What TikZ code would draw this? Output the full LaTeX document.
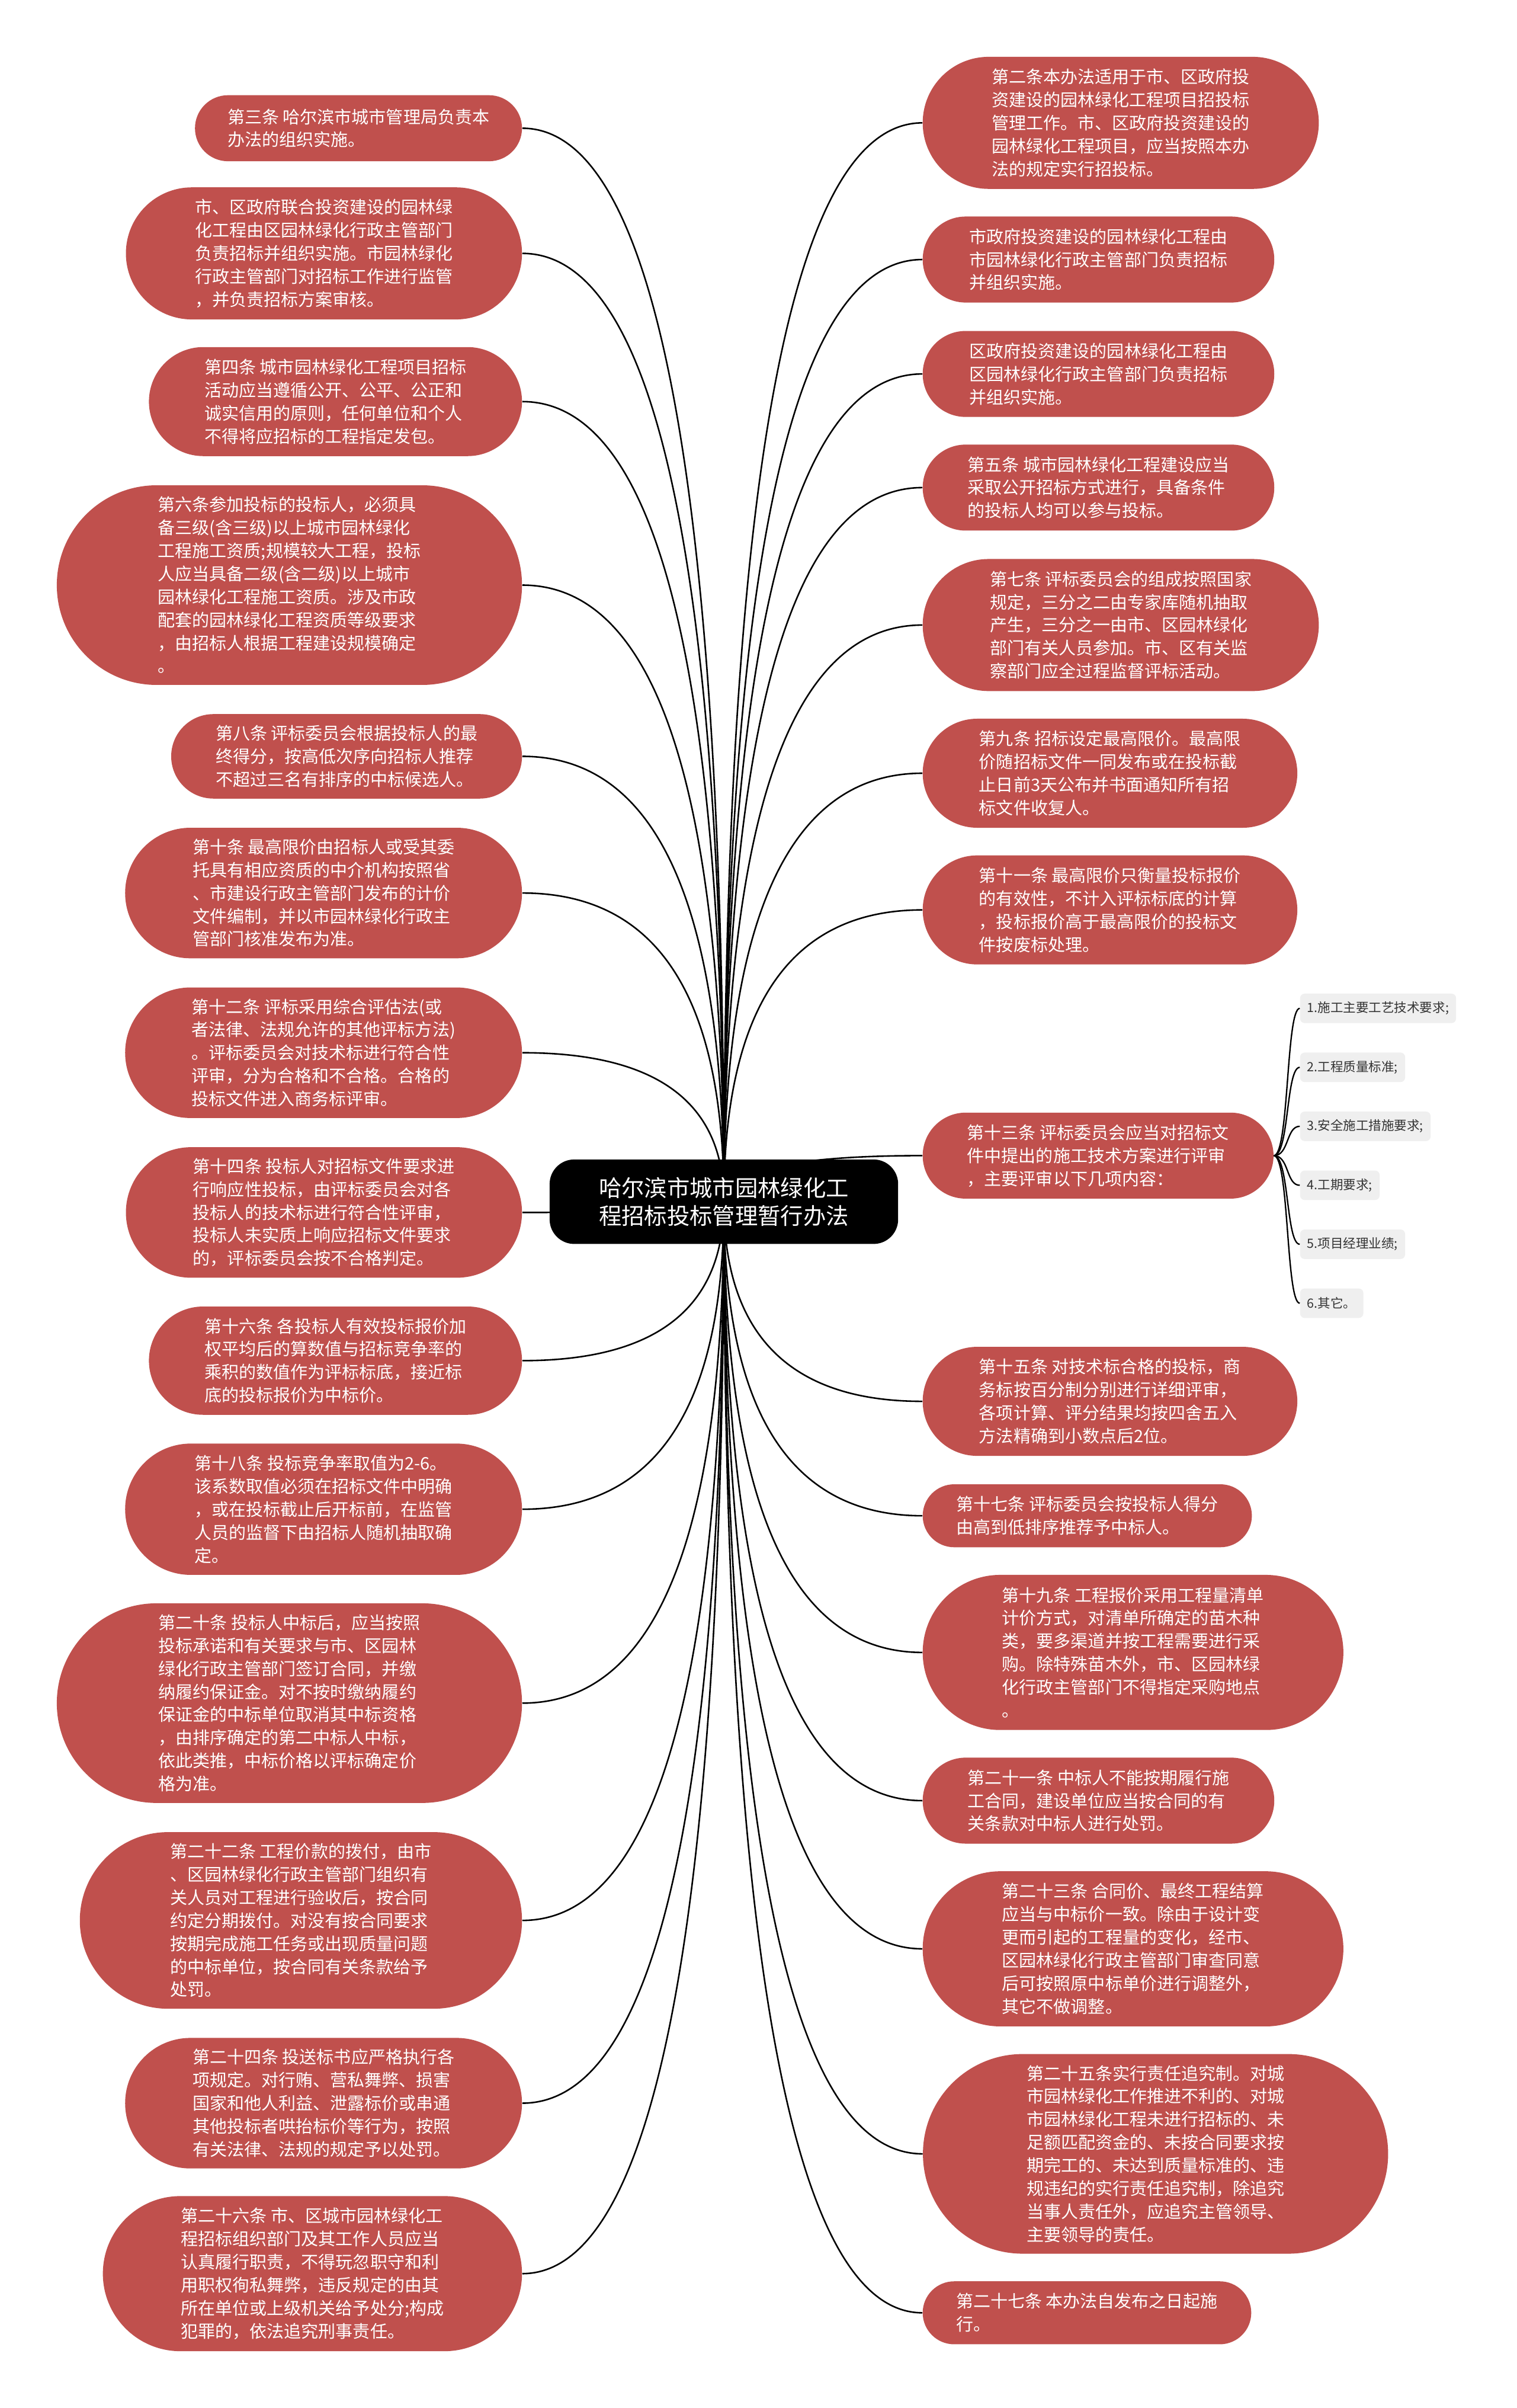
\documentclass[tikz,border=0pt]{standalone}
\usepackage{fontspec}
\setmainfont{Noto Sans CJK SC}
\usepackage{tikz}
\usetikzlibrary{shapes.misc,calc,backgrounds}
\definecolor{leafred}{HTML}{C0504D}
\definecolor{itemgray}{HTML}{EFEFEF}
\definecolor{itemtext}{HTML}{333333}
\newcommand{\leaffont}{\fontsize{11.2}{15}\selectfont}
\newcommand{\hubfont}{\fontsize{14.8}{18}\selectfont}
\newcommand{\itemfont}{\fontsize{8.3}{10}\selectfont}
\tikzset{
  hub/.style={rectangle, rounded corners=16pt, fill=black, text=white,
              font=\hubfont, align=center, inner sep=0pt,
              minimum width=227pt, minimum height=55pt},
  leaf/.style={rounded rectangle, fill=leafred, text=white, font=\leaffont,
               align=left, inner sep=0pt},
  item/.style={rectangle, rounded corners=3pt, fill=itemgray, text=itemtext,
               font=\itemfont, inner xsep=4.7pt, inner ysep=0pt,
               minimum height=19.2pt, anchor=west},
  branch/.style={draw=black, line width=1pt},
  twig/.style={draw=black, line width=0.9pt},
}
% #1 name, #2 #3 centre, #4 width, #5 height, #6 text
\newcommand{\leafnode}[6]{%
  \node[leaf, minimum width=#4, minimum height=#5] (#1) at (#2,#3) {#6};%
}
% curved line from the hub to anchor #2 of node #1
\newcommand{\branch}[2]{%
  \draw[branch] (hub.center)
    .. controls ($(hub.center)!0.667!(hub.center |- #1.#2)$)
            and ($(#1.#2)!0.667!(hub.center |- #1.#2)$) .. (#1.#2);%
}

\begin{document}
\begin{tikzpicture}[x=1pt, y=-1pt]

  \useasboundingbox (0,0) rectangle (988,1568);

  % --- centre --------------------------------------------------------------
  \node[hub] (hub) at (471.5,782.5) {哈尔滨市城市园林绿化工\\程招标投标管理暂行办法};

  % --- left column ---------------------------------------------------------
  \leafnode{left-1}{233.5}{83.5}{213}{43}
    {第三条 哈尔滨市城市管理局负责本\\办法的组织实施。}
  \leafnode{left-2}{211}{165}{258}{86}
    {市、区政府联合投资建设的园林绿\\化工程由区园林绿化行政主管部门\\负责招标并组织实施。市园林绿化\\行政主管部门对招标工作进行监管\\，并负责招标方案审核。}
  \leafnode{left-3}{218.5}{261.5}{243}{71}
    {第四条 城市园林绿化工程项目招标\\活动应当遵循公开、公平、公正和\\诚实信用的原则，任何单位和个人\\不得将应招标的工程指定发包。}
  \leafnode{left-4}{188.5}{381}{303}{130}
    {第六条参加投标的投标人，必须具\\备三级(含三级)以上城市园林绿化\\工程施工资质;规模较大工程，投标\\人应当具备二级(含二级)以上城市\\园林绿化工程施工资质。涉及市政\\配套的园林绿化工程资质等级要求\\，由招标人根据工程建设规模确定\\。}
  \leafnode{left-5}{225.75}{492.5}{228.5}{55}
    {第八条 评标委员会根据投标人的最\\终得分，按高低次序向招标人推荐\\不超过三名有排序的中标候选人。}
  \leafnode{left-6}{210.75}{581.5}{258.5}{85}
    {第十条 最高限价由招标人或受其委\\托具有相应资质的中介机构按照省\\、市建设行政主管部门发布的计价\\文件编制，并以市园林绿化行政主\\管部门核准发布为准。}
  \leafnode{left-7}{210.75}{685.5}{258.5}{85}
    {第十二条 评标采用综合评估法(或\\者法律、法规允许的其他评标方法)\\。评标委员会对技术标进行符合性\\评审，分为合格和不合格。合格的\\投标文件进入商务标评审。}
  \leafnode{left-8}{211}{789.5}{258}{85}
    {第十四条 投标人对招标文件要求进\\行响应性投标，由评标委员会对各\\投标人的技术标进行符合性评审，\\投标人未实质上响应招标文件要求\\的，评标委员会按不合格判定。}
  \leafnode{left-9}{218.5}{886}{243}{70.5}
    {第十六条 各投标人有效投标报价加\\权平均后的算数值与招标竞争率的\\乘积的数值作为评标标底，接近标\\底的投标报价为中标价。}
  \leafnode{left-10}{210.75}{982.75}{258.5}{85.5}
    {第十八条 投标竞争率取值为2-6。\\该系数取值必须在招标文件中明确\\，或在投标截止后开标前，在监管\\人员的监督下由招标人随机抽取确\\定。}
  \leafnode{left-11}{188.5}{1109}{303}{130}
    {第二十条 投标人中标后，应当按照\\投标承诺和有关要求与市、区园林\\绿化行政主管部门签订合同，并缴\\纳履约保证金。对不按时缴纳履约\\保证金的中标单位取消其中标资格\\，由排序确定的第二中标人中标，\\依此类推，中标价格以评标确定价\\格为准。}
  \leafnode{left-12}{196}{1250.5}{288}{115}
    {第二十二条 工程价款的拨付，由市\\、区园林绿化行政主管部门组织有\\关人员对工程进行验收后，按合同\\约定分期拨付。对没有按合同要求\\按期完成施工任务或出现质量问题\\的中标单位，按合同有关条款给予\\处罚。}
  \leafnode{left-13}{210.75}{1369.5}{258.5}{85}
    {第二十四条 投送标书应严格执行各\\项规定。对行贿、营私舞弊、损害\\国家和他人利益、泄露标价或串通\\其他投标者哄抬标价等行为，按照\\有关法律、法规的规定予以处罚。}
  \leafnode{left-14}{203.5}{1480.5}{273}{101}
    {第二十六条 市、区城市园林绿化工\\程招标组织部门及其工作人员应当\\认真履行职责，不得玩忽职守和利\\用职权徇私舞弊，违反规定的由其\\所在单位或上级机关给予处分;构成\\犯罪的，依法追究刑事责任。}

  % --- right column --------------------------------------------------------
  \leafnode{right-1}{730}{80}{258}{86}
    {第二条本办法适用于市、区政府投\\资建设的园林绿化工程项目招投标\\管理工作。市、区政府投资建设的\\园林绿化工程项目，应当按照本办\\法的规定实行招投标。}
  \leafnode{right-2}{715.5}{169}{229}{56}
    {市政府投资建设的园林绿化工程由\\市园林绿化行政主管部门负责招标\\并组织实施。}
  \leafnode{right-3}{715.5}{243.5}{229}{56}
    {区政府投资建设的园林绿化工程由\\区园林绿化行政主管部门负责招标\\并组织实施。}
  \leafnode{right-4}{715.5}{317.5}{229}{56}
    {第五条 城市园林绿化工程建设应当\\采取公开招标方式进行，具备条件\\的投标人均可以参与投标。}
  \leafnode{right-5}{730}{407}{258}{86}
    {第七条 评标委员会的组成按照国家\\规定，三分之二由专家库随机抽取\\产生，三分之一由市、区园林绿化\\部门有关人员参加。市、区有关监\\察部门应全过程监督评标活动。}
  \leafnode{right-6}{723}{503.5}{244}{71}
    {第九条 招标设定最高限价。最高限\\价随招标文件一同发布或在投标截\\止日前3天公布并书面通知所有招\\标文件收复人。}
  \leafnode{right-7}{723}{592.5}{244}{71}
    {第十一条 最高限价只衡量投标报价\\的有效性，不计入评标标底的计算\\，投标报价高于最高限价的投标文\\件按废标处理。}
  \leafnode{right-8}{715.25}{752.5}{228.5}{56}
    {第十三条 评标委员会应当对招标文\\件中提出的施工技术方案进行评审\\，主要评审以下几项内容：}
  \leafnode{right-9}{723}{912.5}{244}{71}
    {第十五条 对技术标合格的投标，商\\务标按百分制分别进行详细评审，\\各项计算、评分结果均按四舍五入\\方法精确到小数点后2位。}
  \leafnode{right-10}{708.2}{987}{214.4}{41}
    {第十七条 评标委员会按投标人得分\\由高到低排序推荐予中标人。}
  \leafnode{right-11}{738}{1076}{274}{101}
    {第十九条 工程报价采用工程量清单\\计价方式，对清单所确定的苗木种\\类，要多渠道并按工程需要进行采\\购。除特殊苗木外，市、区园林绿\\化行政主管部门不得指定采购地点\\。}
  \leafnode{right-12}{715.5}{1172.5}{229}{56}
    {第二十一条 中标人不能按期履行施\\工合同，建设单位应当按合同的有\\关条款对中标人进行处罚。}
  \leafnode{right-13}{738}{1269}{274}{101}
    {第二十三条 合同价、最终工程结算\\应当与中标价一致。除由于设计变\\更而引起的工程量的变化，经市、\\区园林绿化行政主管部门审查同意\\后可按照原中标单价进行调整外，\\其它不做调整。}
  \leafnode{right-14}{752.65}{1402.5}{303}{130}
    {第二十五条实行责任追究制。对城\\市园林绿化工作推进不利的、对城\\市园林绿化工程未进行招标的、未\\足额匹配资金的、未按合同要求按\\期完工的、未达到质量标准的、违\\规违纪的实行责任追究制，除追究\\当事人责任外，应追究主管领导、\\主要领导的责任。}
  \leafnode{right-15}{708}{1506}{214}{41}
    {第二十七条 本办法自发布之日起施\\行。}

  % --- items of the thirteenth article -------------------------------------
  \foreach \t [count=\i] in {1.施工主要工艺技术要求;, 2.工程质量标准;,
      3.安全施工措施要求;, 4.工期要求;, 5.项目经理业绩;, 6.其它。} {
    \node[item] (item-\i) at (846.6,{618.2+38.4*\i}) {\t};
  }

  % --- connectors ----------------------------------------------------------
  \begin{scope}[on background layer]
    \fill[white] (0,0) rectangle (988,1568);
    \foreach \i in {1,...,14} {\branch{left-\i}{east}}
    \foreach \i in {1,...,15} {\branch{right-\i}{west}}
    \foreach \i in {1,...,6} {
      \draw[twig] (right-8.east) .. controls +(10,0) and +(-9,0) .. (item-\i.west);
    }
  \end{scope}

\end{tikzpicture}
\end{document}
